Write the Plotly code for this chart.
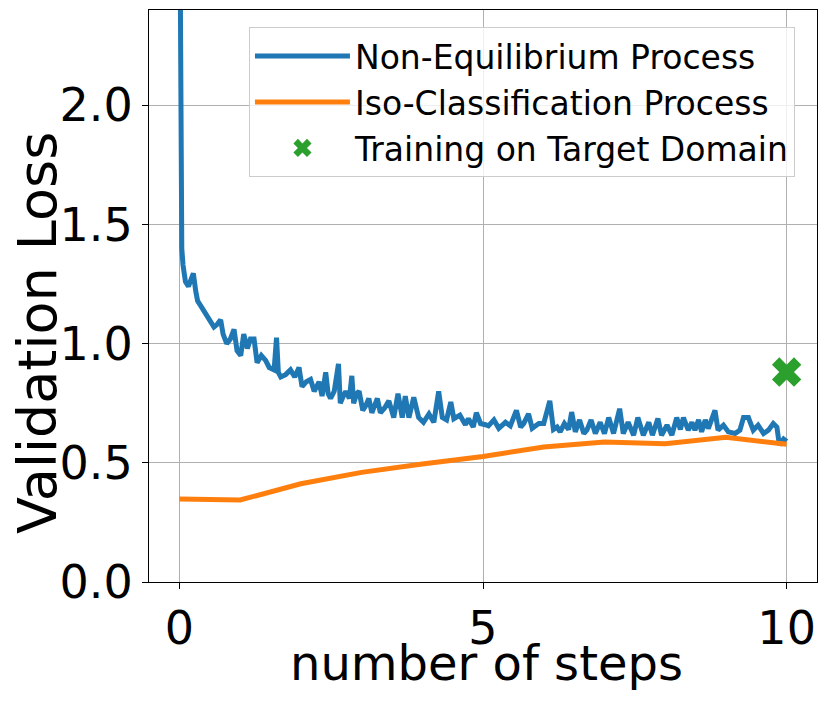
import plotly.graph_objects as go

# Non-Equilibrium Process (blue)
neq_x = [0.0, 0.02, 0.04, 0.06, 0.10, 0.15, 0.20, 0.23, 0.27, 0.30, 0.35, 0.40, 0.46, 0.52, 0.57,
         0.62, 0.68, 0.72, 0.78, 0.84, 0.90, 0.95, 1.01, 1.06, 1.12, 1.17, 1.23, 1.28, 1.35, 1.42,
         1.48, 1.56, 1.60, 1.63, 1.67, 1.75, 1.83, 1.90, 1.97, 2.02, 2.09, 2.16, 2.22, 2.30, 2.35,
         2.41, 2.45, 2.49, 2.55, 2.62, 2.65, 2.70, 2.74, 2.80, 2.84, 2.87, 2.92, 2.96, 3.02, 3.07,
         3.12, 3.17, 3.22, 3.26, 3.31, 3.38, 3.45, 3.53, 3.60, 3.67, 3.72, 3.78, 3.86, 3.94, 4.02,
         4.11, 4.19, 4.27, 4.33, 4.40, 4.47, 4.52, 4.62, 4.71, 4.76, 4.84, 4.89, 4.96, 5.04, 5.09,
         5.18, 5.26, 5.37, 5.45, 5.55, 5.62, 5.67, 5.75, 5.81, 5.92, 6.00, 6.10, 6.16, 6.22, 6.27,
         6.34, 6.41, 6.46, 6.52, 6.59, 6.66, 6.71, 6.78, 6.85, 6.93, 7.00, 7.07, 7.15, 7.25, 7.31,
         7.39, 7.48, 7.55, 7.64, 7.73, 7.79, 7.88, 7.94, 8.03, 8.11, 8.19, 8.25, 8.30, 8.38, 8.44,
         8.49, 8.55, 8.60, 8.66, 8.71, 8.82, 8.87, 8.96, 9.04, 9.15, 9.23, 9.29, 9.37, 9.45, 9.53,
         9.62, 9.70, 9.78, 9.84, 9.88, 9.95, 10.0]
neq_y = [3.20, 1.80, 1.40, 1.33, 1.26, 1.24, 1.28, 1.295, 1.22, 1.18, 1.16, 1.14, 1.12, 1.09, 1.07,
         1.08, 1.10, 1.04, 1.00, 1.02, 1.06, 0.97, 0.95, 1.04, 0.98, 1.02, 1.02, 0.92, 0.95, 0.93,
         0.90, 0.89, 1.025, 0.88, 0.86, 0.87, 0.89, 0.86, 0.90, 0.82, 0.84, 0.85, 0.80, 0.84, 0.78,
         0.88, 0.79, 0.77, 0.80, 0.915, 0.75, 0.78, 0.80, 0.77, 0.865, 0.75, 0.79, 0.80, 0.72, 0.74,
         0.77, 0.71, 0.74, 0.77, 0.71, 0.73, 0.76, 0.69, 0.79, 0.69, 0.78, 0.69, 0.775, 0.69, 0.67,
         0.705, 0.67, 0.80, 0.69, 0.68, 0.755, 0.685, 0.70, 0.66, 0.685, 0.65, 0.71, 0.665, 0.66, 0.655,
         0.68, 0.645, 0.67, 0.655, 0.72, 0.65, 0.665, 0.705, 0.645, 0.665, 0.665, 0.76, 0.64, 0.65, 0.63,
         0.665, 0.64, 0.713, 0.63, 0.68, 0.623, 0.637, 0.68, 0.623, 0.67, 0.623, 0.69, 0.623, 0.727, 0.623,
         0.67, 0.616, 0.69, 0.616, 0.67, 0.616, 0.686, 0.616, 0.658, 0.616, 0.69, 0.64, 0.69, 0.637, 0.67,
         0.637, 0.68, 0.63, 0.68, 0.644, 0.72, 0.637, 0.658, 0.63, 0.623, 0.637, 0.69, 0.69, 0.637, 0.658,
         0.623, 0.637, 0.665, 0.65, 0.575, 0.60, 0.59]

# Iso-Classification Process (orange)
iso_x = [0, 1, 2, 3, 4, 5, 6, 7, 8, 9, 10]
iso_y = [0.348, 0.344, 0.412, 0.460, 0.495, 0.527, 0.566, 0.587, 0.580, 0.607, 0.578]

# Training on Target Domain (green X)
tgt_x = [10]
tgt_y = [0.881]

x_ticks = [0, 5, 10]
y_ticks = [0.0, 0.5, 1.0, 1.5, 2.0]
y_tick_labels = ["0.0", "0.5", "1.0", "1.5", "2.0"]

FONT = "DejaVu Sans"

fig = go.Figure()
fig.add_trace(go.Scatter(x=neq_x, y=neq_y, mode="lines", name="Non-Equilibrium Process",
                         line=dict(color="#1f77b4", width=5)))
fig.add_trace(go.Scatter(x=iso_x, y=iso_y, mode="lines", name="Iso-Classification Process",
                         line=dict(color="#ff7f0e", width=5)))
fig.add_trace(go.Scatter(x=tgt_x, y=tgt_y, mode="markers", name="Training on Target Domain",
                         marker=dict(color="#2ca02c", symbol="x", size=26, line=dict(width=0))))

axis_common = dict(showline=True, linecolor="black", linewidth=1.2, mirror=True,
                   showgrid=True, gridcolor="#b0b0b0", gridwidth=1,
                   ticks="outside", ticklen=6, tickcolor="black", tickwidth=1.2,
                   zeroline=False, automargin=False,
                   tickfont=dict(family=FONT, size=46, color="black"))

fig.update_xaxes(range=[-0.5, 10.5], tickvals=x_ticks, **axis_common)
fig.update_yaxes(range=[0, 2.4], tickvals=y_ticks, ticktext=y_tick_labels, **axis_common)

# axis titles as text placed to match the reference
fig.add_annotation(text="Validation Loss", xref="paper", yref="paper",
                   x=-0.168, y=0.435, xanchor="center", yanchor="middle",
                   textangle=-90, showarrow=False,
                   font=dict(family=FONT, size=54, color="black"))
fig.add_annotation(text="number of steps", xref="paper", yref="paper",
                   x=0.505, y=-0.142, xanchor="center", yanchor="middle",
                   showarrow=False,
                   font=dict(family=FONT, size=48, color="black"))

# page body has an 8px default margin, so the figure is 8px smaller and shifted
fig.update_layout(
    width=822, height=693,
    margin=dict(l=141, r=13, t=2, b=119),
    plot_bgcolor="white", paper_bgcolor="white",
    font=dict(family=FONT, color="black"),
    legend=dict(x=0.967, y=0.970, xanchor="right", yanchor="top",
                bgcolor="rgba(255,255,255,0.8)", bordercolor="#cccccc", borderwidth=1,
                font=dict(family=FONT, size=33, color="black"),
                itemwidth=95),
    showlegend=True,
)

fig.write_html("out.html")
